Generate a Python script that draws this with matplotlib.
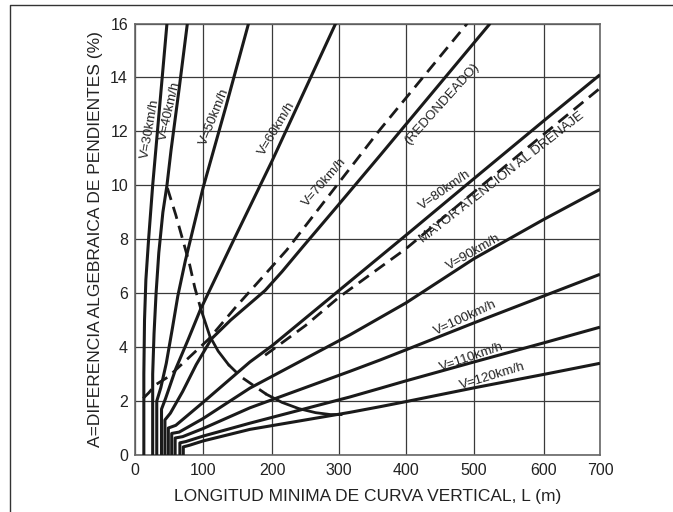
import numpy as np
import matplotlib
matplotlib.use("Agg")
import matplotlib.pyplot as plt
from matplotlib.lines import Line2D

plt.rcParams['font.family'] = ['Liberation Sans', 'DejaVu Sans']

# grid positions of the original (the 600-700 interval is drawn narrower)
x_grid = [0, 100, 200, 300, 400, 500, 600, 700]
x_draw = [0, 68, 137, 204, 271, 339, 409, 465]

# speed curves: L (m), A (%)
v30_L = [13, 13, 14, 16, 20, 26, 33, 40, 47]
v30_A = [0, 3, 5, 6.5, 8, 10, 12, 14, 16]
v40_L = [26, 26, 28, 31, 35, 41, 47, 53, 65, 77]
v40_A = [0, 3, 4.5, 6, 7.5, 9, 10, 11.3, 13.6, 16]
v50_L = [32, 32, 38, 46, 55, 63, 74, 100, 133, 166]
v50_A = [0, 2.0, 2.5, 3.4, 4.7, 5.9, 7.2, 9.9, 12.9, 16]
v60_L = [39, 39, 45, 60, 78, 96, 145, 200, 295]
v60_A = [0, 1.7, 2.1, 3.2, 4.27, 5.38, 8.0, 10.9, 16]
v70_L = [44, 44, 52, 70, 90, 112, 140, 165, 190, 215, 246, 300, 361, 523]
v70_A = [0, 1.3, 1.55, 2.35, 3.35, 4.3, 5.0, 5.55, 6.1, 6.8, 7.72, 9.3, 11.1, 16]
v80_L = [49, 49, 60, 100, 168, 200, 300, 400, 500, 600, 700]
v80_A = [0, 1.0, 1.1, 1.95, 3.45, 4.05, 6.1, 8.15, 10.25, 12.4, 14.1]
v90_L = [54, 54, 65, 100, 168, 316, 400, 500, 600, 700]
v90_A = [0, 0.8, 0.85, 1.35, 2.48, 4.45, 5.64, 7.28, 8.74, 9.85]
v100_L = [59, 59, 70, 100, 168, 316, 361, 400, 500, 600, 700]
v100_A = [0, 0.63, 0.68, 0.98, 1.75, 3.1, 3.52, 3.9, 4.9, 5.9, 6.7]
v110_L = [66, 66, 75, 100, 168, 316, 361, 400, 500, 600, 700]
v110_A = [0, 0.45, 0.5, 0.7, 1.18, 2.15, 2.47, 2.75, 3.45, 4.16, 4.74]
v120_L = [71, 71, 80, 100, 168, 316, 361, 400, 500, 600, 700]
v120_A = [0, 0.3, 0.36, 0.52, 0.95, 1.58, 1.79, 1.98, 2.49, 2.99, 3.4]

# dashed lines
red_L = [12, 20, 30, 49, 108, 148, 190, 222, 361, 490]
red_A = [2.1, 2.3, 2.6, 2.9, 4.29, 5.5, 6.7, 7.6, 12.06, 16]
dren_L = [190, 250, 300, 400, 500, 600, 700]
dren_A = [3.7, 4.8, 5.85, 7.65, 9.75, 11.9, 13.6]

# falling limit curve, in pieces (dashed / solid / dashed / solid)
lim1_L = [47.6, 60, 70, 80, 88, 97]
lim1_A = [9.9, 8.9, 8.0, 7.1, 6.2, 5.4]
lim2_L = [97, 110, 122, 137]
lim2_A = [5.4, 4.4, 3.85, 3.35]
lim3_L = [137, 155, 172, 192]
lim3_A = [3.35, 2.9, 2.6, 2.25]
lim4_L = [192, 215, 240, 265, 287, 303]
lim4_A = [2.25, 1.95, 1.72, 1.57, 1.5, 1.5]

speeds = [
    (v30_L, v30_A), (v40_L, v40_A), (v50_L, v50_A), (v60_L, v60_A),
    (v70_L, v70_A), (v80_L, v80_A), (v90_L, v90_A), (v100_L, v100_A),
    (v110_L, v110_A), (v120_L, v120_A),
]

# labels: text, L, A, angle
labels = [
    ("V=30km/h", 22, 12.1, 80),
    ("V=40km/h", 51, 12.75, 77),
    ("V=50km/h", 117, 12.55, 68),
    ("V=60km/h", 208, 12.1, 59),
    ("V=70km/h", 278, 10.1, 49),
    ("(REDONDEADO)", 452, 13.0, 48),
    ("V=80km/h", 457, 9.8, 35),
    ("MAYOR ATENCION AL DRENAJE", 540, 10.3, 38),
    ("V=90km/h", 500, 7.5, 30),
    ("V=100km/h", 487, 5.08, 25),
    ("V=110km/h", 497, 3.64, 19),
    ("V=120km/h", 527, 2.93, 17),
]


def fwd(x):
    return np.interp(x, x_grid, x_draw)


def inv(x):
    return np.interp(x, x_draw, x_grid)


fig = plt.figure(figsize=(6.73, 5.12), dpi=100)
ax = fig.add_axes([135 / 673, 1 - 455 / 512, 465 / 673, 431.5 / 512])
ax.set_xscale('function', functions=(fwd, inv))
ax.set_xlim(0, 700)
ax.set_ylim(0, 16)
ax.set_xticks(x_grid)
ax.set_yticks(range(0, 17, 2))
ax.grid(True, color='#3a3a3a', linewidth=0.9, zorder=0)
ax.tick_params(length=0, labelsize=11.5, colors='#222222')
ax.tick_params(axis='x', pad=6)
ax.tick_params(axis='y', pad=5)
for s in ax.spines.values():
    s.set_color('#666666')
    s.set_linewidth(1.2)

for L, A in speeds:
    ax.plot(L, A, color='#1a1a1a', lw=2.2, solid_capstyle='butt', zorder=3)

dash = (0, (4.5, 2.6))
ax.plot(red_L, red_A, color='#1a1a1a', lw=2.0, linestyle=dash, zorder=3)
ax.plot(dren_L, dren_A, color='#1a1a1a', lw=2.0, linestyle=dash, zorder=3)
ax.plot(lim1_L, lim1_A, color='#1a1a1a', lw=2.0, linestyle=dash, zorder=3)
ax.plot(lim2_L, lim2_A, color='#1a1a1a', lw=2.0, zorder=3)
ax.plot(lim3_L, lim3_A, color='#1a1a1a', lw=2.0, linestyle=dash, zorder=3)
ax.plot(lim4_L, lim4_A, color='#1a1a1a', lw=2.0, zorder=3)

for txt, L, A, ang in labels:
    ax.text(L, A, txt, rotation=ang, rotation_mode='anchor', ha='center', va='center',
            fontsize=9.6, color='#222222', zorder=4)

ax.set_xlabel('LONGITUD MINIMA DE CURVA VERTICAL, L (m)', fontsize=12.5, color='#222222', labelpad=8)
ax.set_ylabel('A=DIFERENCIA ALGEBRAICA DE PENDIENTES (%)', fontsize=12.5, color='#222222', labelpad=5)

# outer frame of the original figure
fig.add_artist(Line2D([10 / 673, 10 / 673, 1], [0, 1 - 5 / 512, 1 - 5 / 512],
                      transform=fig.transFigure, color='#333333', lw=1.0))

fig.savefig('out.png', dpi=100)
